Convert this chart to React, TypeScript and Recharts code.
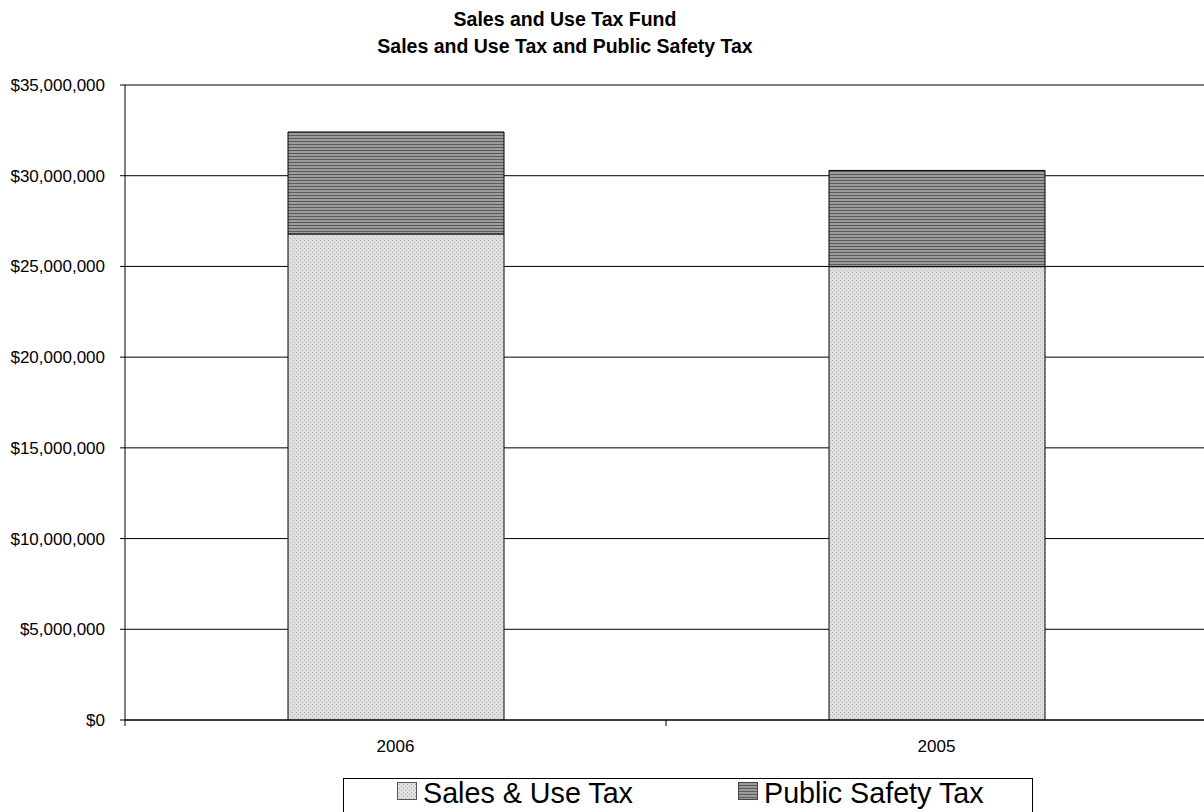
import React from "react";
import { BarChart, Bar, XAxis, YAxis, CartesianGrid } from "recharts";

const years = ["2006", "2005"];
const salesUseTax = [26790000, 24990000];
const publicSafetyTax = [5620000, 5300000];
const yTicks = [0, 5000000, 10000000, 15000000, 20000000, 25000000, 30000000, 35000000];

const data = years.map((year, i) => ({
  year,
  sales: salesUseTax[i],
  safety: publicSafetyTax[i],
}));

const CHART_W = 1210;
const CHART_H = 812;
const LEFT = 125;
const RIGHT = 3;
const PLOT_W = CHART_W - LEFT - RIGHT;
const HALF_BAND = PLOT_W / years.length / 2;
const FONT = "'Liberation Sans', Arial, sans-serif";

const fmtMoney = (v: number) => "$" + v.toLocaleString("en-US");

function XTick(props: any) {
  const { x, y, payload, index } = props;
  const axisY = y - 6;
  return (
    <g>
      <line x1={x - HALF_BAND} x2={x - HALF_BAND} y1={axisY} y2={axisY + 6} stroke="#000" />
      {index === years.length - 1 && (
        <line x1={x + HALF_BAND} x2={x + HALF_BAND} y1={axisY} y2={axisY + 6} stroke="#000" />
      )}
      <text x={x} y={axisY + 32} textAnchor="middle" fontSize={17} fontFamily={FONT} fill="#000">
        {payload.value}
      </text>
    </g>
  );
}

function SalesSwatch({ id }: { id: string }) {
  return (
    <svg width={20} height={18} style={{ display: "block" }}>
      <defs>
        <pattern id={id} width="4" height="4" patternUnits="userSpaceOnUse">
          <rect width="4" height="4" fill="#dedede" />
          <rect x="0" y="0" width="1" height="1" fill="#b8b8b8" />
          <rect x="2" y="2" width="1" height="1" fill="#b8b8b8" />
        </pattern>
      </defs>
      <rect x={0.5} y={0.5} width={19} height={17} fill={`url(#${id})`} stroke="#555" />
    </svg>
  );
}

function SafetySwatch({ id }: { id: string }) {
  return (
    <svg width={20} height={18} style={{ display: "block" }}>
      <defs>
        <pattern id={id} width="4" height="3" patternUnits="userSpaceOnUse">
          <rect width="4" height="3" fill="#9c9c9c" />
          <rect x="0" y="0" width="4" height="1" fill="#5a5a5a" />
        </pattern>
      </defs>
      <rect x={0.5} y={0.5} width={19} height={17} fill={`url(#${id})`} stroke="#444" />
    </svg>
  );
}

export default function App() {
  return (
    <div
      style={{
        position: "absolute",
        left: 0,
        top: 0,
        width: 1204,
        height: 812,
        overflow: "hidden",
        background: "#fff",
        fontFamily: FONT,
      }}
    >
      <div
        style={{
          position: "absolute",
          left: 0,
          top: 6,
          width: 1130,
          textAlign: "center",
          fontWeight: "bold",
          fontSize: 19.5,
          lineHeight: "27px",
          color: "#000",
        }}
      >
        <div>Sales and Use Tax Fund</div>
        <div>Sales and Use Tax and Public Safety Tax</div>
      </div>

      <div style={{ position: "absolute", left: 0, top: 0 }}>
        <BarChart
          width={CHART_W}
          height={CHART_H}
          data={data}
          margin={{ top: 85, right: RIGHT, bottom: 62, left: 0 }}
          barCategoryGap={0}
        >
          <defs>
            <pattern id="salesPat" width="4" height="4" patternUnits="userSpaceOnUse">
              <rect width="4" height="4" fill="#dedede" />
              <rect x="0" y="0" width="1" height="1" fill="#b8b8b8" />
              <rect x="2" y="2" width="1" height="1" fill="#b8b8b8" />
            </pattern>
            <pattern id="safetyPat" width="4" height="3" patternUnits="userSpaceOnUse">
              <rect width="4" height="3" fill="#9c9c9c" />
              <rect x="0" y="0" width="4" height="1" fill="#5a5a5a" />
            </pattern>
          </defs>
          <CartesianGrid vertical={false} stroke="#000" />
          <XAxis
            dataKey="year"
            height={30}
            axisLine={{ stroke: "#000" }}
            tickLine={false}
            tickSize={6}
            tickMargin={0}
            tick={<XTick />}
            interval={0}
          />
          <YAxis
            width={LEFT}
            domain={[0, 35000000]}
            ticks={yTicks}
            tickFormatter={fmtMoney}
            axisLine={{ stroke: "#000" }}
            tickLine={{ stroke: "#000" }}
            tickSize={5}
            tickMargin={15}
            tick={{ fontSize: 17, fontFamily: FONT, fill: "#000" }}
            allowDataOverflow
          />
          <Bar
            dataKey="sales"
            name="Sales & Use Tax"
            stackId="tax"
            barSize={216}
            fill="url(#salesPat)"
            stroke="#000"
            strokeWidth={1}
            isAnimationActive={false}
          />
          <Bar
            dataKey="safety"
            name="Public Safety Tax"
            stackId="tax"
            barSize={216}
            fill="url(#safetyPat)"
            stroke="#000"
            strokeWidth={1}
            isAnimationActive={false}
          />
        </BarChart>
      </div>

      <div
        style={{
          position: "absolute",
          left: 343,
          top: 778,
          width: 688,
          height: 60,
          border: "1px solid #000",
          background: "#fff",
          fontSize: 28.7,
          color: "#000",
        }}
      >
        <div style={{ position: "absolute", left: 53, top: 3 }}>
          <SalesSwatch id="legSales" />
        </div>
        <span style={{ position: "absolute", left: 79, top: -2, whiteSpace: "nowrap", lineHeight: "normal" }}>
          Sales &amp; Use Tax
        </span>
        <div style={{ position: "absolute", left: 394, top: 3 }}>
          <SafetySwatch id="legSafety" />
        </div>
        <span style={{ position: "absolute", left: 420, top: -2, whiteSpace: "nowrap", lineHeight: "normal" }}>
          Public Safety Tax
        </span>
      </div>
    </div>
  );
}
